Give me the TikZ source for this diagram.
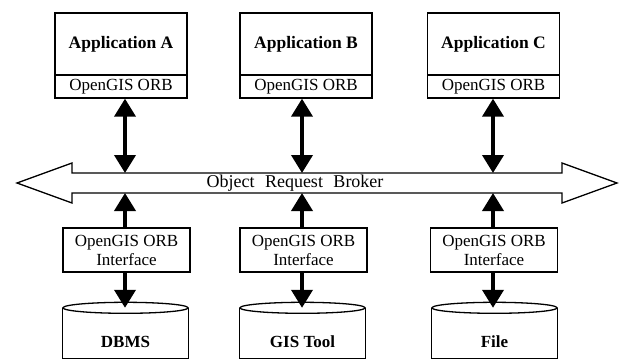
\documentclass[tikz,border=0pt]{standalone}
\usepackage{fontspec}
\setmainfont{Liberation Serif}
\usetikzlibrary{arrows.meta,calc}
\begin{document}
\begin{tikzpicture}[x=1pt,y=-1pt,
  frame/.style={draw, line width=1.3pt, inner sep=0pt, font=\fontsize{17}{19}\selectfont},
  appbox/.style={frame, minimum width=132pt, minimum height=62pt, font=\fontsize{17.5}{19}\selectfont\bfseries},
  orbbox/.style={frame, minimum width=132pt, minimum height=23pt},
  ifbox/.style={frame, minimum width=127pt, minimum height=44pt, align=center},
  dbbody/.style={inner sep=0pt, minimum width=125pt, minimum height=50pt},
  dblabel/.style={font=\fontsize{17}{19}\selectfont\bfseries},
  cyl/.style={line width=1.3pt},
  bus/.style={draw, line width=1.3pt, line join=miter},
  tips/.style={line width=3.8pt},
  tip/.tip={Triangle[length=18pt,width=21pt]}
]
\useasboundingbox (0,0) rectangle (629,360);

% application boxes
\node[appbox] (appA) at (121,44) {Application A};
\node[orbbox] (orbA) at (121,86.5) {OpenGIS ORB};
\node[appbox] (appB) at (306,44) {Application B};
\node[orbbox] (orbB) at (306,86.5) {OpenGIS ORB};
\node[appbox] (appC) at (493.5,44) {Application C};
\node[orbbox] (orbC) at (493.5,86.5) {OpenGIS ORB};

% bus
\draw[bus] (17,183) -- (72,163) -- (72,173) -- (562,173) -- (562,163) -- (617,183)
  -- (562,203) -- (562,193) -- (72,193) -- (72,203) -- cycle;
\node[font=\fontsize{18}{20}\selectfont] (orb) at (295,183) {Object\hspace{6pt} Request\hspace{6pt} Broker};
\coordinate (busN) at (0,173);
\coordinate (busS) at (0,193);

% interface boxes
\node[ifbox] (ifA) at (126.5,250) {OpenGIS ORB\\Interface};
\node[ifbox] (ifB) at (303.5,250) {OpenGIS ORB\\Interface};
\node[ifbox] (ifC) at (494,250) {OpenGIS ORB\\Interface};

% data stores
\node[dbbody] (dbA) at (125.5,333) {};
\node[dbbody] (dbB) at (302.5,333) {};
\node[dbbody] (dbC) at (494.5,333) {};
\foreach \d/\t in {dbA/DBMS, dbB/GIS Tool, dbC/File}{
  \draw[cyl] (\d.north west) -- (\d.south west) -- (\d.south east) -- (\d.north east);
  \draw[cyl] (\d.north) ellipse [x radius=62.5pt, y radius=5.5pt];
  \node[dblabel] at ($(\d.center)+(0,9)$) {\t};
}

% arrow x positions
\coordinate (xA) at (125,0);
\coordinate (xB) at (302,0);
\coordinate (xC) at (493,0);

\foreach \s in {A,B,C}{
  \draw[tips,{tip}-{tip}] (orb\s.south -| x\s) -- (x\s |- busN);
  \draw[tips,-{tip}] (if\s.north -| x\s) -- (x\s |- busS);
  \draw[tips,-{tip}] (if\s.south -| x\s) -- (db\s.north -| x\s);
}
\end{tikzpicture}
\end{document}
